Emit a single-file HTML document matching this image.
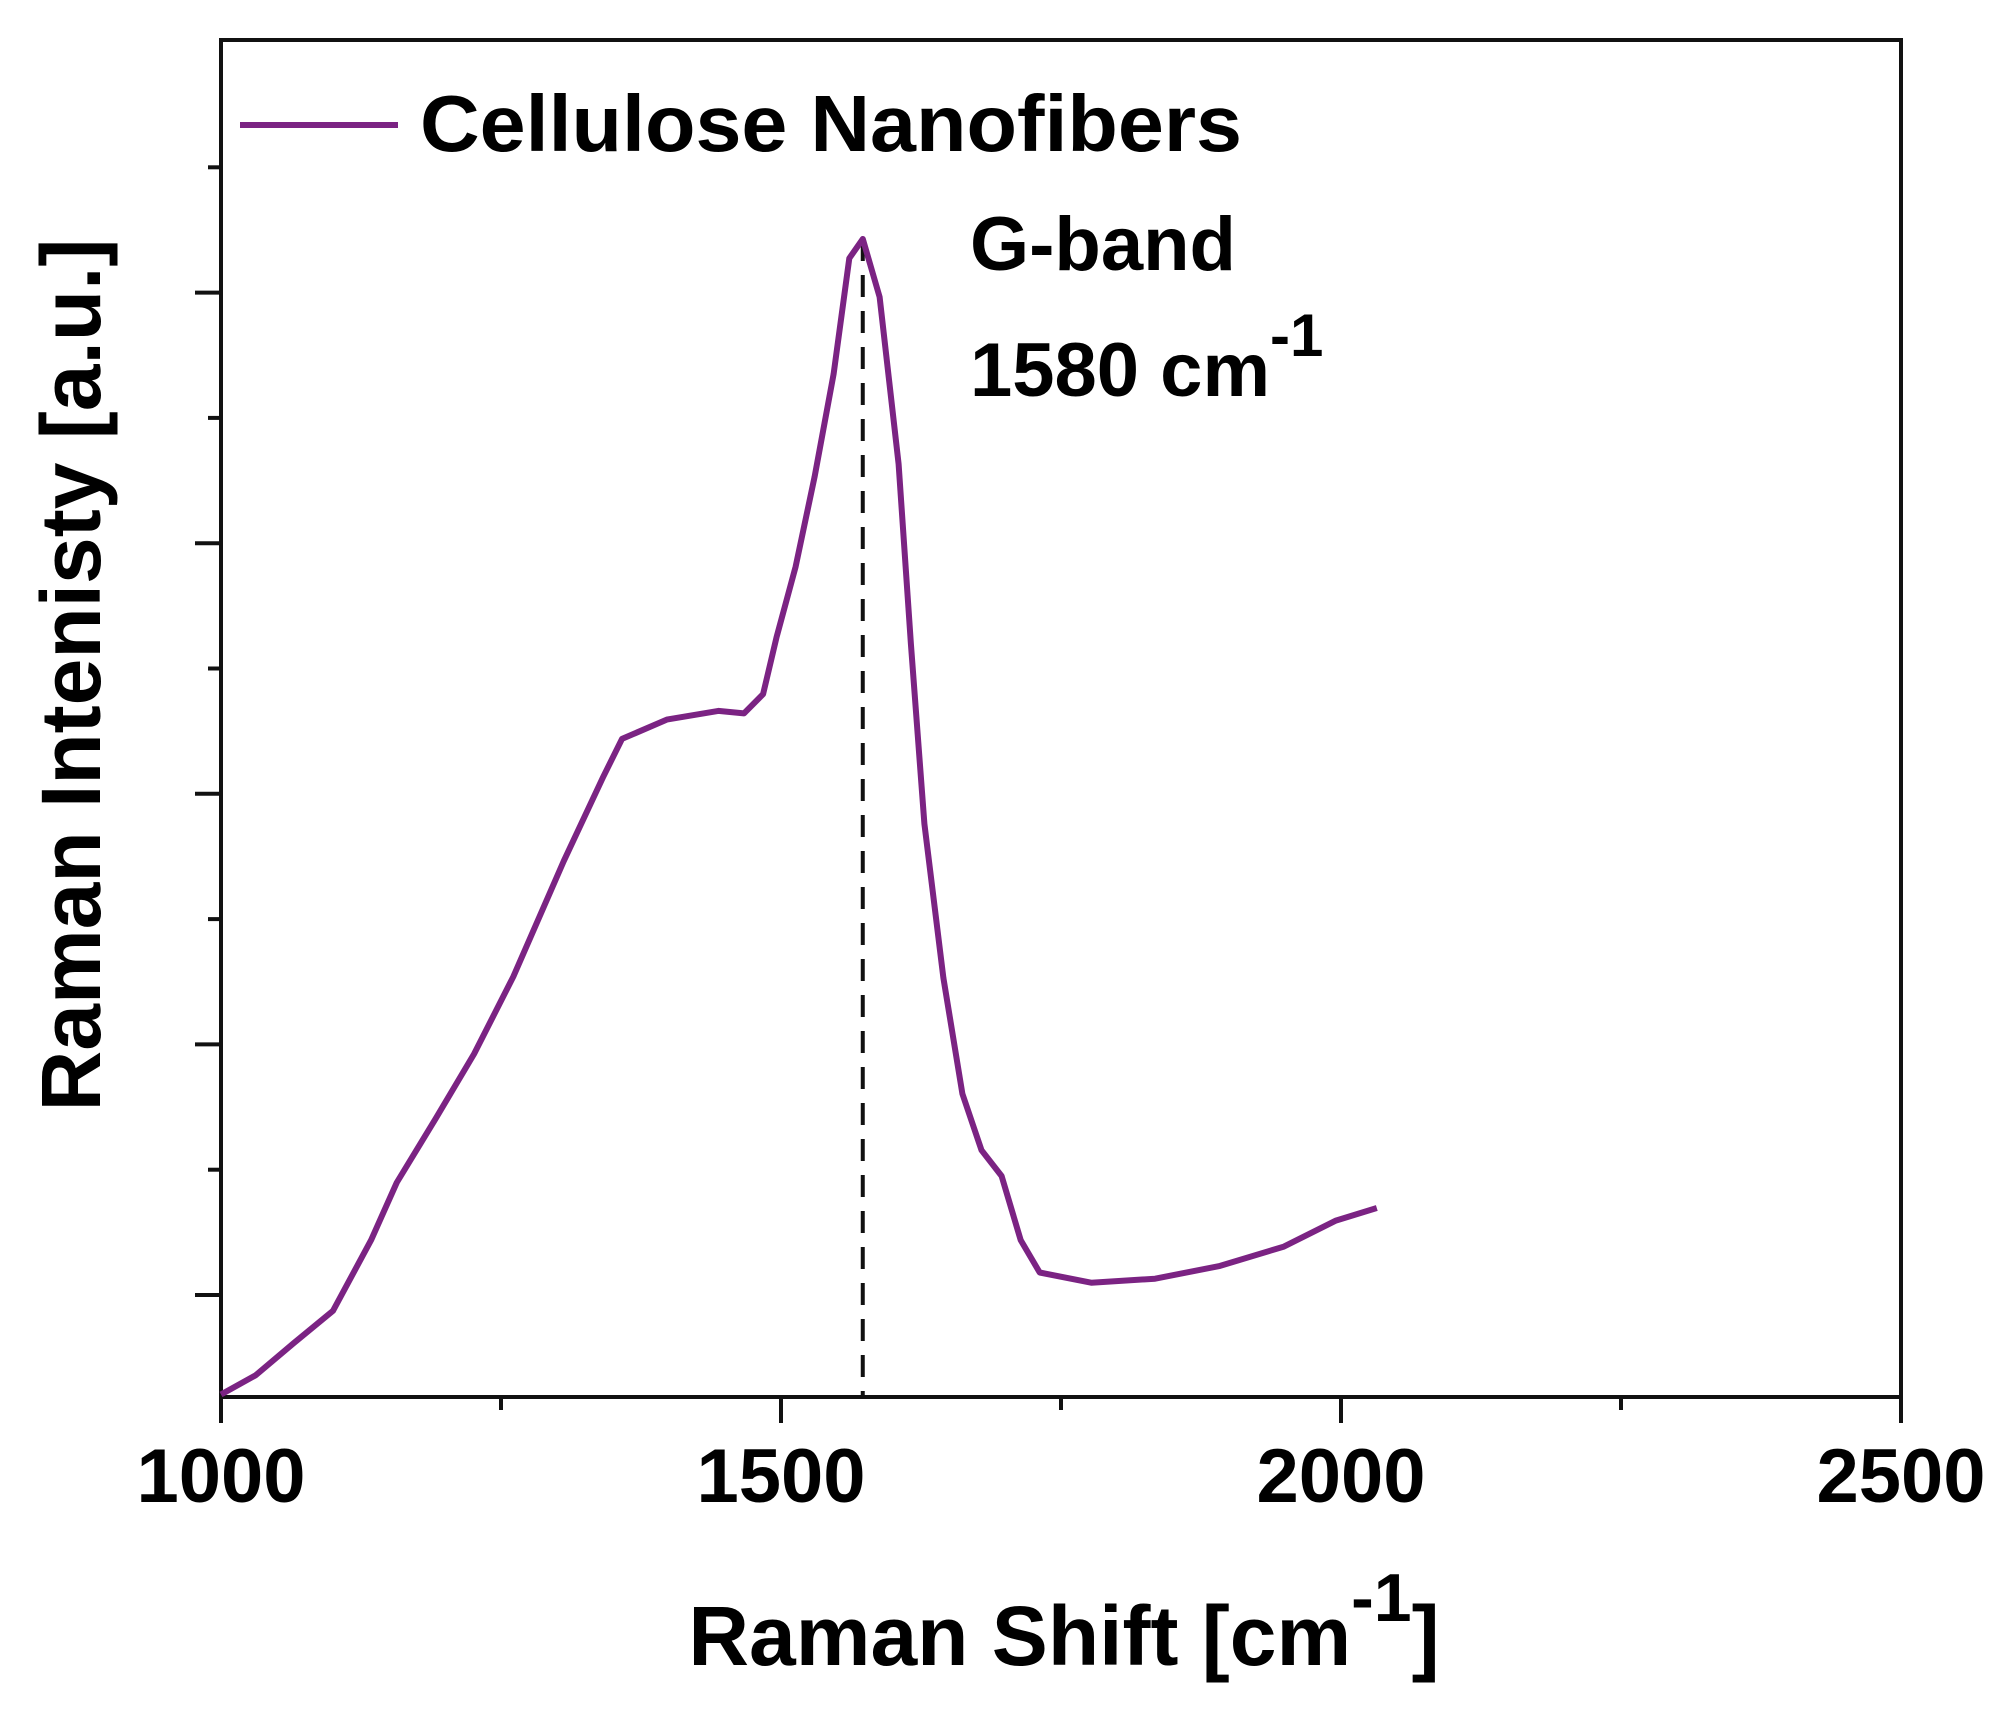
<!DOCTYPE html>
<html><head><meta charset="utf-8"><style>
html,body{margin:0;padding:0;background:#fff;}
svg{display:block;font-family:"Liberation Sans",Arial,sans-serif;font-weight:bold;}
</style></head><body>
<svg id="chart" width="2015" height="1731" viewBox="0 0 2015 1731">
<g id="axes"></g>
<g id="series"></g>
<line x1="240" y1="125" x2="398" y2="125" stroke="#7B2383" stroke-width="6"/>
<text x="420" y="151" font-size="80" textLength="822" lengthAdjust="spacingAndGlyphs">Cellulose Nanofibers</text>
<text x="970" y="270" font-size="76">G-band</text>
<text x="970" y="396" font-size="76">1580 cm<tspan dy="-40" font-size="60">-1</tspan></text>
<text x="1064" y="1665" font-size="84" text-anchor="middle">Raman Shift [cm<tspan dy="-44" font-size="68">-1</tspan><tspan dy="44">]</tspan></text>
<text transform="translate(100,675) rotate(-90)" font-size="84" text-anchor="middle">Raman Intenisty [a.u.]</text>
</svg>
<script>
const xVals=[1000,1031,1065,1100,1134,1157,1192,1226,1261,1306,1341,1358,1398,1444,1467,1484,1496,1513,1530,1547,1561,1573,1588,1605,1616,1628,1645,1662,1679,1697,1714,1731,1777,1834,1892,1949,1995,2032];
const yVals=[0.01,0.087,0.215,0.344,0.626,0.856,1.113,1.369,1.677,2.138,2.472,2.626,2.703,2.738,2.728,2.805,3.031,3.313,3.672,4.082,4.544,4.621,4.390,3.723,3.005,2.287,1.672,1.210,0.985,0.882,0.626,0.497,0.456,0.472,0.523,0.600,0.703,0.754];
const xTicks=[1000,1500,2000,2500];
const xMinor=[1250,1750,2250];
const yMajor=[0.407,1.407,2.407,3.407,4.407];
const yMinor=[0.907,1.907,2.907,3.907,4.907];
const peakX=1573;
const peakY=4.621;
const L=221,R=1901,T=40,B=1397;
const xs=v=>L+(v-1000)/1500*(R-L);
const ys=v=>B-v*250.6;
const NS='http://www.w3.org/2000/svg';
const ax=document.getElementById('axes');
const se=document.getElementById('series');
function mk(tag,attrs,parent){const e=document.createElementNS(NS,tag);for(const k in attrs)e.setAttribute(k,attrs[k]);parent.appendChild(e);return e;}
const fr=mk('rect',{x:L,y:T,width:R-L,height:B-T,fill:'none',stroke:'#111','stroke-width':4},ax);


xTicks.forEach(v=>{
  const t=mk('line',{x1:xs(v),x2:xs(v),y1:B,y2:B+26,stroke:'#111','stroke-width':4},ax);
  
  
  const l=mk('text',{x:xs(v),y:1502,'font-size':76,'text-anchor':'middle'},ax);
  l.textContent=v;
  
  
});
xMinor.forEach(v=>{
  const t=mk('line',{x1:xs(v),x2:xs(v),y1:B,y2:B+13,stroke:'#111','stroke-width':4},ax);
  
  
});
yMajor.forEach(v=>{
  const t=mk('line',{x1:L-26,x2:L,y1:ys(v),y2:ys(v),stroke:'#111','stroke-width':4},ax);
  
  
});
yMinor.forEach(v=>{
  const t=mk('line',{x1:L-13,x2:L,y1:ys(v),y2:ys(v),stroke:'#111','stroke-width':4},ax);
  
  
});
const dl=mk('line',{x1:xs(peakX),x2:xs(peakX),y1:ys(peakY),y2:B,stroke:'#111','stroke-width':4,'stroke-dasharray':'22,14'},se);


const d=xVals.map((x,i)=>(i?'L':'M')+xs(x).toFixed(1)+' '+ys(yVals[i]).toFixed(1)).join(' ');
const p=mk('path',{d:d,fill:'none',stroke:'#7B2383','stroke-width':6,'stroke-linejoin':'round'},se);


</script>
</body></html>
